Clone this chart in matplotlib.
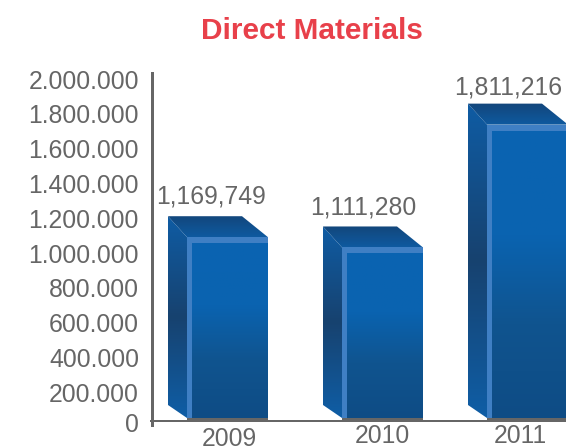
import numpy as np
import matplotlib
matplotlib.use("Agg")
import matplotlib.pyplot as plt
from matplotlib.colors import LinearSegmentedColormap
from matplotlib.patches import Polygon

years = ["2009", "2010", "2011"]
values = [1169749, 1111280, 1811216]
value_labels = ["1,169,749", "1,111,280", "1,811,216"]
tick_values = [0, 200000, 400000, 600000, 800000, 1000000, 1200000, 1400000, 1600000, 1800000, 2000000]
tick_labels = ["0", "200.000", "400.000", "600.000", "800.000", "1.000.000", "1.200.000",
               "1.400.000", "1.600.000", "1.800.000", "2.000.000"]

plt.rcParams["font.family"] = ["Liberation Sans", "DejaVu Sans"]
GREY = "#666666"
FS = 17.8

# vertical scale: pixels per unit, value zero sits at pixel row ZERO
K = 0.1755 / 1000
ZERO = 421.5
def px(n):
    return n / K
def row(r):
    return (ZERO - r) / K

fig = plt.figure(figsize=(5.66, 4.48), dpi=100)
ax = fig.add_axes([0, 0, 1, 1])
ax.axis("off")

front_cm = LinearSegmentedColormap.from_list("front", [(0, "#0a64b2"), (0.38, "#0a63b0"), (0.68, "#10548f"), (1, "#0e4c85")])
side_cm = LinearSegmentedColormap.from_list("side", [(0, "#0f5ca4"), (0.5, "#17426f"), (1, "#0f5ea6")])
top_cm = LinearSegmentedColormap.from_list("top", ["#13467b", "#0e5aa0"])
grad = np.linspace(0, 1, 256).reshape(-1, 1)

def shaded(poly, cmap):
    pts = np.array(poly)
    im = ax.imshow(grad, cmap=cmap, aspect="auto", origin="upper", zorder=2,
                   extent=(pts[:, 0].min(), pts[:, 0].max(), pts[:, 1].min(), pts[:, 1].max()))
    patch = Polygon(poly, closed=True, transform=ax.transData, fc="none", ec="none")
    ax.add_patch(patch)
    im.set_clip_path(patch)

# 3d-looking columns: back edge carries the value, front face drops by the depth
lefts = [168, 323, 468]
depth_x, depth_y = 19, 21
back_width, front_width = 74, 81
bevel = "#3f7fc4"
back_floor = row(405)
front_floor = row(418)
label_dx = [43.5, 40.5, 40]
label_dy = [19.5, 18.5, 16.5]
year_x = [229, 382, 520]
year_base = [446, 443, 443]

for i, v in enumerate(values):
    x0 = lefts[i]
    x1 = x0 + depth_x
    x2 = x1 + front_width
    front_top = v - px(depth_y)
    shaded([(x0, v), (x0, back_floor), (x1, front_floor), (x1, front_top)], side_cm)
    shaded([(x0, v), (x0 + back_width, v), (x2, front_top), (x1, front_top)], top_cm)
    shaded([(x1, front_top), (x2, front_top), (x2, front_floor), (x1, front_floor)], front_cm)
    # lighter bevel along the top and left of the front face
    ax.fill_between([x1, x2], front_top - px(6), front_top, color=bevel, lw=0, zorder=3)
    ax.fill_between([x1, x1 + 5], front_floor, front_top, color=bevel, lw=0, zorder=3)
    ax.fill_between([x1, x2], row(420), front_floor, color=GREY, lw=0, zorder=3)
    ax.text(x0 + label_dx[i], v + px(label_dy[i]), value_labels[i], ha="center", va="center",
            color=GREY, fontsize=FS, zorder=5)
    ax.text(year_x[i], row(year_base[i]), years[i], ha="center", va="baseline",
            color=GREY, fontsize=FS, zorder=5)

# the axis labels run on a slightly tighter scale than the columns
for t, lab in zip(tick_values, tick_labels):
    r = 429.5 - t * 0.1739 / 1000 if t else 425
    ax.text(139, row(r), lab, ha="right", va="center", color=GREY, fontsize=FS, zorder=5)

ax.fill_between([150, 566], row(422), row(420), color=GREY, lw=0, zorder=4)
ax.fill_between([151, 154], row(427), row(72), color=GREY, lw=0, zorder=4)

ax.text(311.5, row(31), "Direct Materials", ha="center", va="center",
        color="#e8404a", fontsize=21.4, fontweight="bold", zorder=5)

ax.set_xlim(0, 566)
ax.set_ylim(row(448), row(0))
fig.savefig("out.png", dpi=100)
